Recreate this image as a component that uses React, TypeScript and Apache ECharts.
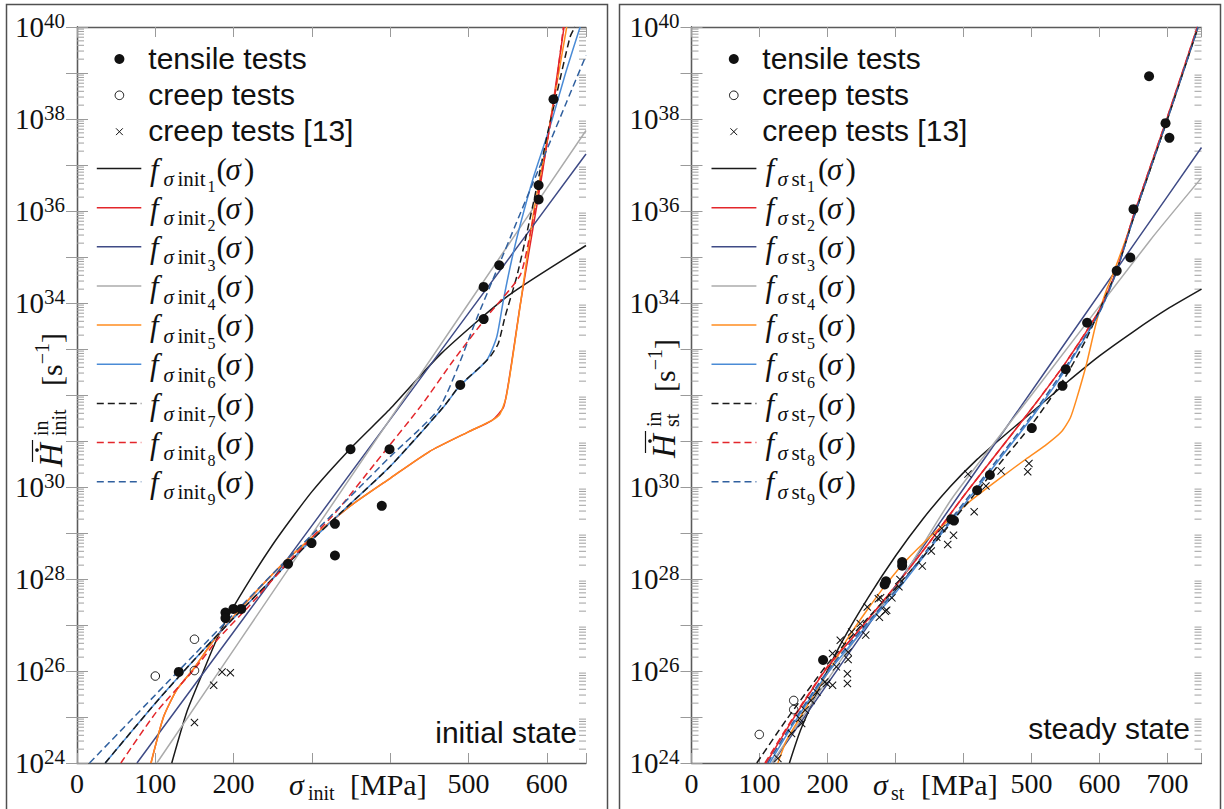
import React, { useEffect, useRef } from "react";
import * as echarts from "echarts";

// ---------------- data (x = stress in MPa, y = log10 of rate in 1/s) ----------------
const yExpMin = 24;
const yExpMax = 40;
const yLabelExps = [24, 26, 28, 30, 34, 36, 38, 40];
const xHiddenLabels = [300, 400];
const xMaxInit = 650;
const xMaxSt = 750;

// initial state
const initTensile = [
  [608.5, 38.43], [589.5, 36.56], [589.5, 36.25], [539.2, 34.82], [519.3, 34.35], [519.3, 33.65],
  [489.4, 32.22], [349.3, 30.82], [399.1, 30.82], [389.2, 29.59], [329.4, 29.2], [329.4, 28.51],
  [299.5, 28.78], [269.5, 28.33], [209.7, 27.35], [199.7, 27.35], [189.6, 27.27], [189.6, 27.15],
  [130, 25.98],
];
const initCreep = [[100, 25.89], [150, 26.69], [150, 26.01]];
const initCreep13 = [[150, 24.88], [174.5, 25.69], [185.2, 25.98], [195.8, 25.96]];

const initF1 = [[121, 24], [140, 25.1], [161, 25.98], [180, 26.75], [200, 27.4], [250, 28.75], [300, 29.9], [350, 30.85], [400, 31.7], [465, 32.9], [550, 34.15], [650, 35.25]];
const initF2 = [[94.5, 24], [110.7, 25.01], [127.7, 25.6], [149, 26.05], [174.5, 26.67], [195.8, 27.1], [230, 27.75], [270, 28.45], [300, 28.9], [350, 29.6], [400, 30.19], [450, 30.77], [500, 31.2], [530, 31.45], [545, 31.75], [555, 32.7], [565, 33.85], [578, 35.2], [592, 36.6], [606, 38.1], [616, 39.3], [622, 40]];
const initF3 = [[76.6, 24], [300, 29.16], [500, 33.78], [650, 37.24]];
const initF4 = [[102, 24], [300, 28.97], [500, 33.99], [650, 37.75]];
const initF5 = [[94.5, 24], [110.7, 25.01], [127.7, 25.6], [149, 26.05], [174.5, 26.67], [195.8, 27.1], [230, 27.75], [270, 28.45], [300, 28.9], [350, 29.6], [400, 30.19], [450, 30.77], [500, 31.2], [530, 31.45], [540, 31.58], [548, 31.95], [557, 32.9], [570, 34.42], [582.8, 35.94], [597.7, 37.3], [610.5, 38.55], [625.4, 40]];
const initF6 = [[36, 24], [100, 25.3], [150, 26.25], [200, 27.15], [270, 28.35], [300, 28.85], [350, 29.65], [400, 30.45], [468, 31.74], [489, 32.2], [523, 32.75], [536, 33.26], [544.5, 34.06], [555, 34.93], [566, 35.7], [583, 36.74], [604, 37.83], [625, 39.06], [642.5, 40]];
const initF7 = [[36, 24], [100, 25.3], [150, 26.25], [200, 27.15], [270, 28.35], [300, 28.85], [350, 29.65], [400, 30.45], [468, 31.74], [489, 32.21], [515, 32.61], [527.5, 32.83], [538, 33.12], [546.6, 33.7], [561.5, 34.57], [574.3, 35.51], [587.1, 36.52], [599.8, 37.6], [612.6, 38.55], [629.6, 39.78], [636, 40]];
const initF8 = [[56, 24], [101, 25.1], [150.9, 26.06], [180.8, 26.71], [220.7, 27.43], [270.5, 28.38], [330.4, 29.45], [380, 30.5], [440, 31.78], [480.6, 32.75], [523.3, 33.7], [565.8, 34.6], [578.6, 35.5], [593.5, 36.81], [610.5, 38.55], [621.1, 40]];
const initF9 = [[16, 24], [100, 25.48], [150, 26.36], [200, 27.24], [255, 28.2], [300, 28.96], [350, 29.81], [400, 30.66], [463.5, 31.74], [512.5, 33.75], [536, 34.71], [561.5, 35.76], [583, 36.64], [606, 37.58], [625, 38.36], [650, 39.38]];

// steady state
const stTensile = [
  [672.9, 38.93], [697.1, 37.91], [702.8, 37.59], [650, 36.04], [645.3, 34.99], [625.3, 34.7],
  [581.8, 33.57], [550.4, 32.56], [545.6, 32.2], [500.5, 31.28], [438.8, 30.26], [420.1, 29.93],
  [382, 29.3], [386, 29.27], [309.8, 28.37], [309.8, 28.29], [284, 27.88], [286, 27.95], [193.5, 26.24],
];
const stCreep = [[99.7, 24.62], [150.3, 25.36], [150.3, 25.16]];
const stCreep13 = [
  [406.6, 30.28], [415.7, 29.46], [433, 30.02], [455.3, 30.35], [496.2, 30.51], [494.4, 30.33],
  [385.3, 28.95], [376.8, 28.75], [368.1, 29.1], [360.6, 28.91], [352.6, 28.61], [339.4, 28.28],
  [306.6, 27.99], [305, 27.83], [294.7, 27.59], [284.9, 27.3], [278, 27.59], [276.3, 27.17],
  [258.5, 27.39], [256.2, 26.78], [248.1, 27.03], [235.5, 26.85], [274.8, 27.57], [287, 27.32],
  [230.3, 26.41], [230.3, 26.25], [229.3, 25.94], [229.3, 25.73], [218.8, 26.67], [207.4, 26.38],
  [213.1, 26.09], [207.4, 25.69], [198.8, 25.73], [195.9, 25.76], [184.4, 25.54], [175.9, 25.36],
  [167.2, 25.15], [162, 24.86], [158.7, 24.97], [147.1, 24.64], [127, 24.1],
];

const stF1 = [[144, 24], [160, 24.7], [190, 25.7], [220, 26.6], [260, 27.6], [300, 28.5], [340, 29.3], [380, 30.0], [420, 30.6], [460, 31.12], [500, 31.62], [550, 32.25], [600, 32.85], [650, 33.38], [700, 33.87], [750, 34.3]];
const stF2 = [[110, 24], [150, 24.97], [200, 26.08], [250, 26.95], [300, 27.85], [350, 28.8], [400, 29.8], [450, 30.75], [500, 31.7], [550, 32.7], [600, 33.85], [625, 34.7], [650, 35.9], [700, 38.05], [744, 40]];
const stF3 = [[118.8, 24], [390, 29.75], [654.7, 35.36], [750, 37.38]];
const stF4 = [[118, 24], [233, 26.52], [306.6, 27.95], [383, 29.75], [500, 32.0], [674.3, 35.36], [750, 36.72]];
const stF5 = [[127, 24], [140, 24.5], [160, 25.0], [184, 25.58], [209, 26.16], [228, 26.67], [258, 27.32], [287, 27.9], [316, 28.41], [356, 28.99], [380, 29.3], [412, 29.72], [450, 30.15], [493, 30.62], [520, 30.9], [544, 31.2], [557, 31.5], [566, 31.9], [581, 32.68], [596, 33.62], [610, 34.27], [620, 34.63], [650, 35.85], [700, 38.0], [745, 40]];
const stF6 = [[115, 24], [150, 24.85], [200, 25.95], [250, 26.85], [300, 27.7], [350, 28.65], [400, 29.6], [450, 30.55], [500, 31.5], [550, 32.55], [600, 33.8], [625, 34.68], [650, 35.85], [700, 38.0], [745, 40]];
const stF7 = [[96, 24], [140, 24.95], [200, 26.15], [250, 27.0], [300, 27.8], [350, 28.65], [400, 29.55], [450, 30.45], [500, 31.35], [550, 32.4], [580, 33.2], [600, 33.85], [625, 34.7], [650, 35.85], [700, 38.0], [745, 40]];
const stF8 = [[108, 24], [150, 25.0], [200, 26.1], [250, 26.95], [300, 27.85], [350, 28.8], [400, 29.8], [450, 30.75], [500, 31.7], [550, 32.7], [600, 33.85], [625, 34.7], [650, 35.9], [700, 38.05], [744, 40]];
const stF9 = [[112, 24], [150, 24.9], [200, 26.0], [250, 26.9], [300, 27.75], [350, 28.7], [400, 29.65], [450, 30.6], [500, 31.55], [550, 32.6], [600, 33.8], [625, 34.68], [650, 35.85], [700, 38.0], [745, 40]];

// ---------------- styles ----------------
const INK = "#111111";
const SERIF = '"Liberation Serif"';
const SANS = '"Liberation Sans"';
const K = 0.34;
const curveStyles = [
  { color: "#1a1a1a", dash: null as number[] | null },
  { color: "#e3262b", dash: null },
  { color: "#3f4b86", dash: null },
  { color: "#ababab", dash: null },
  { color: "#ff8c1f", dash: null },
  { color: "#4a8bd6", dash: null },
  { color: "#1a1a1a", dash: [7, 4] },
  { color: "#e3262b", dash: [7, 4] },
  { color: "#30609f", dash: [7, 4] },
];
const crossPath =
  "path://M0,0.9L0.9,0L5,4.1L9.1,0L10,0.9L5.9,5L10,9.1L9.1,10L5,5.9L0.9,10L0,9.1L4.1,5Z";

function txt(t: string, x: number, baseline: number, fs: number, o: any = {}) {
  const align = o.align || "left";
  return {
    type: "text",
    x,
    y: baseline - K * fs,
    silent: true,
    style: {
      text: t,
      font: `${o.it ? "italic " : ""}${fs}px ${o.fam || SERIF}`,
      fill: INK,
      textAlign: align,
      textVerticalAlign: "middle",
      align,
      verticalAlign: "middle",
    },
  };
}

const panels = [
  {
    gridLeft: 77, gridWidth: 509, xMax: xMaxInit,
    tensile: initTensile, creep: initCreep, creep13: initCreep13,
    curves: [initF1, initF2, initF3, initF4, initF5, initF6, initF7, initF8, initF9],
    sub: "init",
    leg: { mx: 119.4, tx: 148.3, lx1: 96.8, lx2: 141.3, fx: 150, s: 13.5, sub: 27.5, d: 57.5, p: 66.5 },
    frameX: 6.5,
    yt: { bx: 62, y0: 467, ss: 31, br: 81 },
    xt: { s: 289, sub: 308, u: 350 },
    stateText: "initial state", stateX: 577, stateBase: 743,
  },
  {
    gridLeft: 691.5, gridWidth: 510, xMax: xMaxSt,
    tensile: stTensile, creep: stCreep, creep13: stCreep13,
    curves: [stF1, stF2, stF3, stF4, stF5, stF6, stF7, stF8, stF9],
    sub: "st",
    leg: { mx: 733.8, tx: 762.3, lx1: 711.5, lx2: 756.4, fx: 765.5, s: 12, sub: 26, d: 41.5, p: 52.5 },
    frameX: 619.5,
    yt: { bx: 675, y0: 458, ss: 31, br: 66 },
    xt: { s: 873, sub: 891, u: 921 },
    stateText: "steady state", stateX: 1190, stateBase: 739,
  },
];

const minorExps: number[] = [];
for (let n = yExpMin; n < yExpMax; n++) for (let k = 2; k <= 9; k++) minorExps.push(n + Math.log10(k));

function buildOption() {
  const grid: any[] = [];
  const xAxis: any[] = [];
  const yAxis: any[] = [];
  const series: any[] = [];
  const graphic: any[] = [];
  const axisLine = { show: true, lineStyle: { color: "#5a5a5a", width: 1.3 } };
  const tickStyle = { color: "#9a9a9a", width: 1 };

  panels.forEach((P, pi) => {
    grid.push({ left: P.gridLeft, top: 27, width: P.gridWidth, height: 736, containLabel: false });
    const xBase = {
      gridIndex: pi, type: "value", min: 0, max: P.xMax, interval: 100,
      axisLine, splitLine: { show: false },
      axisTick: { show: true, inside: true, length: 10, lineStyle: tickStyle },
    };
    xAxis.push({
      ...xBase, position: "bottom",
      axisLabel: {
        margin: 6, fontFamily: SERIF, fontSize: 28, color: INK,
        formatter: (v: number) => (v % 100 === 0 && !xHiddenLabels.includes(v) ? String(v) : ""),
      },
    });
    xAxis.push({ ...xBase, position: "top", axisLabel: { show: false } });
    const yBase = {
      gridIndex: pi, type: "value", min: yExpMin, max: yExpMax, interval: 1,
      axisLine, splitLine: { show: false },
      axisTick: { show: true, inside: true, length: 11, lineStyle: tickStyle },
    };
    yAxis.push({
      ...yBase, position: "left",
      axisLabel: {
        margin: 12,
        formatter: (v: number) => {
          const r = Math.round(v);
          return Math.abs(v - r) < 1e-6 && yLabelExps.includes(r) ? `{b|10}{s|${r}}` : "";
        },
        rich: {
          b: { fontFamily: SERIF, fontSize: 29, lineHeight: 29, color: INK, verticalAlign: "bottom" },
          s: { fontFamily: SERIF, fontSize: 21, lineHeight: 21, color: INK, verticalAlign: "bottom", padding: [0, 0, 10, 0] },
        },
      },
    });
    yAxis.push({ ...yBase, position: "right", axisLabel: { show: false } });

    const xi = pi * 2, yi = pi * 2;
    series.push({
      type: "custom", xAxisIndex: xi, yAxisIndex: yi, silent: true, clip: false, z: 1,
      data: minorExps.map((e) => [0, e]),
      encode: { x: 0, y: 1 },
      renderItem: (params: any, api: any) => {
        const cs = params.coordSys;
        const y = api.coord([0, api.value(1)])[1];
        const st = { stroke: "#a0a0a0", lineWidth: 1 };
        return {
          type: "group",
          children: [
            { type: "line", shape: { x1: cs.x, y1: y, x2: cs.x + 7, y2: y }, style: st },
            { type: "line", shape: { x1: cs.x + cs.width - 7, y1: y, x2: cs.x + cs.width, y2: y }, style: st },
          ],
        };
      },
    });

    P.curves.forEach((c, ci) => {
      const s = curveStyles[ci];
      series.push({
        type: "line", xAxisIndex: xi, yAxisIndex: yi, data: c, showSymbol: false, symbol: "none",
        smooth: 0.2, silent: true, z: 2 + ci * 0.01,
        lineStyle: { color: s.color, width: 1.5, type: s.dash ? s.dash : "solid" },
      });
    });
    series.push({
      type: "scatter", xAxisIndex: xi, yAxisIndex: yi, data: P.tensile, symbol: "circle",
      symbolSize: 10, itemStyle: { color: INK, opacity: 1 }, z: 5, silent: true,
    });
    series.push({
      type: "scatter", xAxisIndex: xi, yAxisIndex: yi, data: P.creep, symbol: "circle",
      symbolSize: 8.5, itemStyle: { color: "rgba(0,0,0,0)", borderColor: INK, borderWidth: 1, opacity: 1 }, z: 5, silent: true,
    });
    series.push({
      type: "scatter", xAxisIndex: xi, yAxisIndex: yi, data: P.creep13, symbol: crossPath,
      symbolSize: 8, itemStyle: { color: INK, opacity: 1 }, z: 5, silent: true,
    });

    // frame
    graphic.push({ type: "rect", silent: true, shape: { x: P.frameX, y: 4.5, width: 601, height: 830 }, style: { fill: "none", stroke: "#505050", lineWidth: 1.5 } });

    // legend: markers
    const L = P.leg;
    const my = [59, 95.3, 131.7];
    graphic.push({ type: "circle", silent: true, shape: { cx: L.mx, cy: my[0], r: 5 }, style: { fill: INK } });
    graphic.push({ type: "circle", silent: true, shape: { cx: L.mx, cy: my[1], r: 4.3 }, style: { fill: "none", stroke: INK, lineWidth: 1 } });
    graphic.push({ type: "line", silent: true, shape: { x1: L.mx - 3.4, y1: my[2] - 3.4, x2: L.mx + 3.4, y2: my[2] + 3.4 }, style: { stroke: INK, lineWidth: 1 } });
    graphic.push({ type: "line", silent: true, shape: { x1: L.mx - 3.4, y1: my[2] + 3.4, x2: L.mx + 3.4, y2: my[2] - 3.4 }, style: { stroke: INK, lineWidth: 1 } });
    ["tensile tests", "creep tests", "creep tests [13]"].forEach((t, i) => {
      graphic.push(txt(t, L.tx, my[i] + 9.3, 30, { fam: SANS }));
    });
    // legend: functions
    curveStyles.forEach((s, i) => {
      const yc = 168.5 + 39.15 * i;
      graphic.push({
        type: "line", silent: true, shape: { x1: L.lx1, y1: yc, x2: L.lx2, y2: yc },
        style: { stroke: s.color, lineWidth: 1.5, lineDash: s.dash || null },
      });
      const B = yc + 11.2;
      graphic.push(txt("f", L.fx, B, 31, { it: true }));
      graphic.push(txt("σ", L.fx + L.s, B + 6.5, 21, { it: true }));
      graphic.push(txt(P.sub, L.fx + L.sub, B + 6.5, 21));
      graphic.push(txt(String(i + 1), L.fx + L.d, B + 12.5, 16));
      graphic.push(txt("(", L.fx + L.p, B, 31));
      graphic.push(txt("σ", L.fx + L.p + 9, B, 31, { it: true }));
      graphic.push(txt(")", L.fx + L.p + 27.5, B, 31));
    });

    // y axis title (rotated)
    const Y = P.yt;
    graphic.push({
      type: "group", x: Y.bx, y: Y.y0, rotation: Math.PI / 2, silent: true,
      children: [
        txt("H", 0, 0, 33, { it: true }),
        { type: "line", shape: { x1: 5, y1: -29.5, x2: 27, y2: -29.5 }, style: { stroke: INK, lineWidth: 1.2 } },
        { type: "circle", shape: { cx: 17, cy: -25, r: 1.8 }, style: { fill: INK } },
        txt("in", Y.ss, -14, 20),
        txt(P.sub, Y.ss, 4, 20),
        txt("[s", Y.br, 0, 30),
        txt("−1", Y.br + 21.7, -13, 20),
        txt("]", Y.br + 43, 0, 30),
      ],
    });
    // x axis title
    const X = P.xt;
    graphic.push(txt("σ", X.s, 795, 30, { it: true }));
    graphic.push(txt(P.sub, X.sub, 800, 20));
    graphic.push(txt("[MPa]", X.u, 795, 30));
    // state label
    graphic.push(txt(P.stateText, P.stateX, P.stateBase, 30, { fam: SANS, align: "right" }));
  });

  return { animation: false, backgroundColor: "#ffffff", grid, xAxis, yAxis, series, graphic };
}

export default function App() {
  const ref = useRef<HTMLDivElement>(null);
  useEffect(() => {
    document.body.style.margin = "0";
    if (!ref.current) return;
    const chart = echarts.init(ref.current, undefined, { renderer: "svg" });
    chart.setOption(buildOption() as any);
    return () => chart.dispose();
  }, []);
  return <div ref={ref} style={{ width: 1224, height: 809 }} />;
}
